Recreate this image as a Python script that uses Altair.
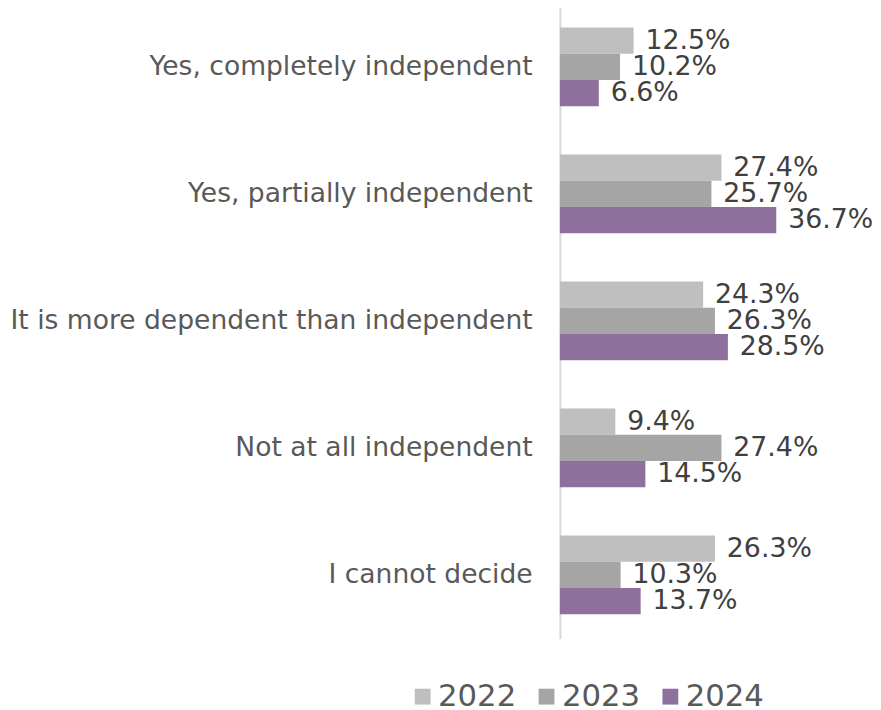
import altair as alt
import pandas as pd

categories = [
    "Yes, completely independent",
    "Yes, partially independent",
    "It is more dependent than independent",
    "Not at all independent",
    "I cannot decide",
]
years = ["2022", "2023", "2024"]
values_2022 = [12.5, 27.4, 24.3, 9.4, 26.3]
values_2023 = [10.2, 25.7, 26.3, 27.4, 10.3]
values_2024 = [6.6, 36.7, 28.5, 14.5, 13.7]
colors = ["#bfbfbf", "#a5a5a5", "#8f709c"]

rows = []
for year, vals in zip(years, [values_2022, values_2023, values_2024]):
    for c, v in zip(categories, vals):
        rows.append({"category": c, "year": year, "value": v, "label": f"{v:.1f}%"})
df = pd.DataFrame(rows)

FONT = "DejaVu Sans"

y = alt.Y("category:N", sort=categories, title=None,
          scale=alt.Scale(paddingInner=0.38, paddingOuter=0.19),
          axis=alt.Axis(labelFontSize=26.8, labelColor="#595959", labelFont=FONT,
                        labelPadding=28, ticks=False, domainColor="#d9d9d9",
                        domainWidth=2, labelLimit=600))
x = alt.X("value:Q", title=None, scale=alt.Scale(domain=[0, 40]), axis=None)
yoff = alt.YOffset("year:N", sort=years)

bars = alt.Chart(df).mark_bar().encode(
    y=y, x=x, yOffset=yoff,
    color=alt.Color("year:N", sort=years,
                    scale=alt.Scale(domain=years, range=colors),
                    legend=alt.Legend(title=None, orient="none", direction="horizontal",
                                      legendX=-154, legendY=684,
                                      symbolType="square", symbolSize=256,
                                      symbolStrokeWidth=0,
                                      labelFontSize=31, labelColor="#595959",
                                      labelFont=FONT, labelOffset=0,
                                      columnPadding=15)),
)

text = alt.Chart(df).mark_text(align="left", baseline="middle", dx=12,
                               fontSize=27, color="#404040", font=FONT).encode(
    y=y, x=x, yOffset=yoff, text="label:N",
)

chart = (bars + text).properties(
    width=238, height=641,
    autosize=alt.AutoSizeParams(type="none"),
    padding={"left": 557, "top": -8, "right": 78, "bottom": 74},
).configure_view(stroke=None)

chart.save("out.html", embed_options={"renderer": "svg", "actions": False})
